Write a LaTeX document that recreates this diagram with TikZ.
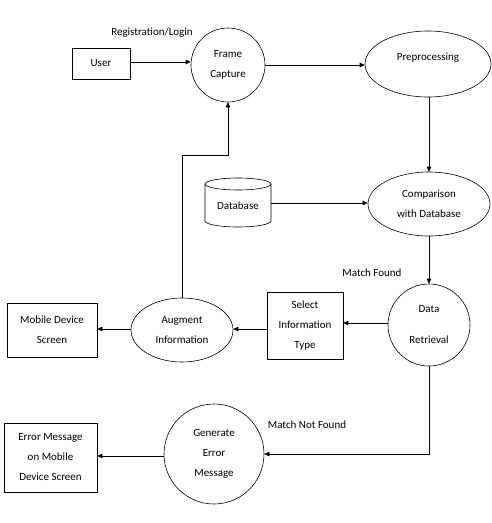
\documentclass[tikz,border=0pt]{standalone}
\usepackage{fontspec}
\setmainfont{Carlito}
\usetikzlibrary{arrows.meta,shapes.geometric}

\tikzset{
  base/.style={font=\fontsize{11}{20}\selectfont, align=center, inner sep=0pt},
  boxnode/.style={base, draw, rectangle},
  procc/.style={base, draw, circle},
  proce/.style={base, draw, ellipse},
  flow/.style={draw, line width=0.6pt, -{Triangle[length=5pt,width=4.5pt]}},
  tag/.style={base},
  every node/.style={line width=0.6pt}
}

\begin{document}
\begin{tikzpicture}[x=1pt,y=-1pt]
  \useasboundingbox (0,0) rectangle (491,523);

  % external entities
  \node[boxnode, minimum width=58pt, minimum height=31pt] (user) at (101,63.5) {User};
  \node[boxnode, minimum width=76pt, minimum height=67pt] (sel) at (305,325.5) {Select\\Information\\Type};
  \node[boxnode, minimum width=90pt, minimum height=54pt] (mob) at (52,330) {Mobile Device\\Screen};
  \node[boxnode, minimum width=93pt, minimum height=69pt] (err) at (50.5,457.5) {Error Message\\on Mobile\\Device Screen};

  % processes
  \node[procc, minimum size=74pt] (fc) at (228,65) {Frame\\Capture};
  \node[proce, minimum width=126pt, minimum height=66pt, text depth=14pt] (pre) at (428,64) {Preprocessing};
  \node[proce, minimum width=122pt, minimum height=64pt] (cmp) at (429,204) {Comparison\\with Database};
  \node[procc, minimum size=82pt] (dr) at (429,325) {Data\\[11pt]Retrieval};
  \node[proce, minimum width=102pt, minimum height=64pt] (aug) at (182,330) {Augment\\Information};
  \node[procc, minimum size=100pt] (gen) at (214,454) {Generate\\Error\\Message};

  % data store
  \node[base, minimum width=66pt, minimum height=49pt] (db) at (238,206) {Database};
  \draw[line width=0.6pt] (238,184) ellipse [x radius=33, y radius=6];
  \draw[line width=0.6pt] (205,184) -- (205,221)
    arc[start angle=180, end angle=0, x radius=33, y radius=6] -- (271,184);

  % labels
  \node[tag] (reg) at (152,33) {Registration/Login};
  \node[tag] (mf) at (372,273) {Match Found};
  \node[tag] (mnf) at (307,425) {Match Not Found};

  % flows
  \coordinate (turn) at (182,155);
  \path[flow] (user.east |- 0,62) -- (fc.west |- 0,62);
  \path[flow] (fc.east |- 0,65) -- (pre.west |- 0,65);
  \path[flow] (cmp.north |- pre.south) -- (cmp.north);
  \path[flow] (db.east |- 0,203) -- (cmp.west |- 0,203);
  \path[flow] (cmp.south) -- (dr.north);
  \path[flow] (dr.west |- 0,323) -- (sel.east |- 0,323);
  \path[flow] (sel.west |- 0,329) -- (aug.east |- 0,329);
  \path[flow] (aug.west |- 0,329) -- (mob.east |- 0,329);
  \path[flow] (aug.north) -- (turn) -| (fc.south);
  \path[flow] (dr.south) |- (gen.east);
  \path[flow] (gen.west |- 0,456) -- (err.east |- 0,456);
\end{tikzpicture}
\end{document}
